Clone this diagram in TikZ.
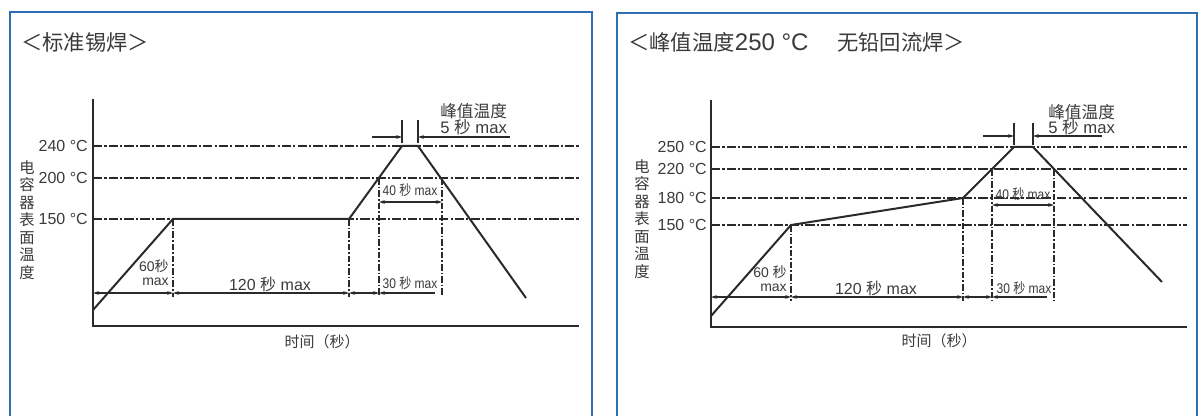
\documentclass[tikz,border=0pt]{standalone}
\usepackage{fontspec}
\setmainfont{Liberation Sans}
\newfontfamily\cjk{Noto Sans CJK SC}
\usetikzlibrary{arrows.meta}
\newcommand\zhtxt[1]{{\cjk #1}}
\definecolor{boxblue}{HTML}{2F6DB5}
\definecolor{ink}{HTML}{2A2A2A}
\definecolor{txt}{HTML}{3A3A3A}
\begin{document}
\begin{tikzpicture}[x=0.75pt,y=-0.75pt,
  frame/.style={draw=boxblue,line width=1.6pt},
  axisline/.style={draw=ink,line width=1.1pt},
  templine/.style={draw=ink,line width=1pt,dash pattern=on 7pt off 1.6pt on 1.6pt off 1.6pt},
  extline/.style={draw=ink,line width=0.9pt,dash pattern=on 5pt off 1.5pt on 1.2pt off 1.5pt},
  profile/.style={draw=ink,line width=1.5pt,line join=miter},
  dimline/.style={draw=ink,line width=0.8pt},
  dimboth/.style={dimline,{Stealth[length=4.5pt,width=2.8pt]}-{Stealth[length=4.5pt,width=2.8pt]}},
  dimstart/.style={dimline,{Stealth[length=4.5pt,width=2.8pt]}-},
  dimend/.style={dimline,-{Stealth[length=4.5pt,width=2.8pt]}},
  ticks/.style={draw=ink,line width=0.8pt},
  lbl/.style={text=txt,inner sep=0pt,font=\fontsize{12}{14}\selectfont},
  smalllbl/.style={text=txt,inner sep=0pt,font=\fontsize{10.5}{12}\selectfont},
  condlbl/.style={text=txt,inner sep=0pt,font=\fontsize{10.5}{12}\selectfont},
  peaklbl/.style={text=txt,inner sep=0pt,font=\fontsize{12.5}{11.5}\selectfont,align=left},
  vlbl/.style={text=txt,inner sep=0pt,font=\cjk\fontsize{11.5}{13.1}\selectfont,align=center},
  titlelbl/.style={text=txt,inner sep=0pt,font=\cjk\fontsize{16}{18}\selectfont},
  timelbl/.style={text=txt,inner sep=0pt,font=\cjk\fontsize{11.25}{13}\selectfont}
]
\useasboundingbox (0,0) rectangle (1200,416);

% ================= frames =================
\draw[frame] (10,420) -- (10,12) -- (592,12) -- (592,420);
\draw[frame] (617,420) -- (617,13) -- (1197,13) -- (1197,420);

\node[titlelbl,anchor=west] (t1) at (21,42) {＜标准锡焊＞};
\node[titlelbl,anchor=west] (t2) at (628,42) {＜峰值温度{\fontspec{Liberation Sans}\fontsize{18}{18}\selectfont 250 °C}\hspace{21.5pt}无铅回流焊＞};

% ================= left chart =================
\coordinate (LA) at (93,99);
\coordinate (LO) at (93,326);
\coordinate (LX) at (579,326);
\draw[axisline] (LA) -- (LO) -- (LX);

\coordinate (L240a) at (93,146); \coordinate (L240b) at (579,146);
\coordinate (L200a) at (93,178); \coordinate (L200b) at (579,178);
\coordinate (L150a) at (93,219); \coordinate (L150b) at (579,219);
\draw[templine] (L240a) -- (L240b);
\draw[templine] (L200a) -- (L200b);
\draw[templine] (L150a) -- (L150b);

\node[lbl,anchor=east] (l240) at (88,146) {240 °C};
\node[lbl,anchor=east] (l200) at (88,178) {200 °C};
\node[lbl,anchor=east] (l150) at (88,219) {150 °C};
\node[vlbl] (lv) at (27,220) {电\\容\\器\\表\\面\\温\\度};

\coordinate (P0) at (93,310);
\coordinate (P1) at (173,219);
\coordinate (P2) at (349,219);
\coordinate (P3) at (402,146);
\coordinate (P4) at (418,146);
\coordinate (P5) at (526,298);
\draw[profile] (P0) -- (P1) -- (P2) -- (P3) -- (P4) -- (P5);

\coordinate (E1a) at (173,219); \coordinate (E1b) at (173,297);
\coordinate (E2a) at (349,219); \coordinate (E2b) at (349,297);
\coordinate (E3a) at (379,178); \coordinate (E3b) at (379,297);
\coordinate (E4a) at (442,178); \coordinate (E4b) at (442,297);
\draw[extline] (E1a) -- (E1b);
\draw[extline] (E2a) -- (E2b);
\draw[extline] (E3a) -- (E3b);
\draw[extline] (E4a) -- (E4b);

\coordinate (D0) at (93,293);
\coordinate (D1) at (173,293);
\coordinate (D2) at (349,293);
\coordinate (D3) at (379,293);
\coordinate (D4) at (435,293);
\draw[dimboth] (D0) -- (D1);
\draw[dimboth] (D1) -- (D2);
\draw[dimboth] (D2) -- (D3);
\draw[dimstart] (D3) -- (D4);

\coordinate (F1) at (379,202); \coordinate (F2) at (442,202);
\draw[dimboth] (F1) -- (F2);

\coordinate (K1a) at (402,120); \coordinate (K1b) at (402,143);
\coordinate (K2a) at (418,120); \coordinate (K2b) at (418,143);
\draw[ticks] (K1a) -- (K1b);
\draw[ticks] (K2a) -- (K2b);
\coordinate (H1) at (372,137); \coordinate (H1e) at (402,137);
\coordinate (H2) at (510,137); \coordinate (H2e) at (418,137);
\draw[dimend] (H1) -- (H1e);
\draw[dimend] (H2) -- (H2e);

\node[peaklbl,anchor=west] (lp1) at (440,111) {\zhtxt{峰值温度}};
\node[peaklbl,anchor=west] (lp2) at (440,127) {5 \zhtxt{秒} max};
\node[condlbl] (l40) at (410,190) {\scalebox{0.86}[1]{40 \zhtxt{秒} max}};
\node[condlbl] (l30) at (410,283) {\scalebox{0.86}[1]{30 \zhtxt{秒} max}};
\node[smalllbl,anchor=east] (l60a) at (169,266) {60\zhtxt{秒}};
\node[smalllbl,anchor=east] (l60b) at (169,282) {max};
\node[lbl] (l120) at (270,284) {120 \zhtxt{秒} max};
\node[timelbl] (ltime) at (322,342) {时间（秒）};

% ================= right chart =================
\coordinate (RA) at (711,100);
\coordinate (RO) at (711,327);
\coordinate (RX) at (1187,327);
\draw[axisline] (RA) -- (RO) -- (RX);

\coordinate (R250a) at (711,147); \coordinate (R250b) at (1187,147);
\coordinate (R220a) at (711,169); \coordinate (R220b) at (1187,169);
\coordinate (R180a) at (711,198); \coordinate (R180b) at (1187,198);
\coordinate (R150a) at (711,225); \coordinate (R150b) at (1187,225);
\draw[templine] (R250a) -- (R250b);
\draw[templine] (R220a) -- (R220b);
\draw[templine] (R180a) -- (R180b);
\draw[templine] (R150a) -- (R150b);

\node[lbl,anchor=east] (r250) at (707,147) {250 °C};
\node[lbl,anchor=east] (r220) at (707,169) {220 °C};
\node[lbl,anchor=east] (r180) at (707,198) {180 °C};
\node[lbl,anchor=east] (r150) at (707,225) {150 °C};
\node[vlbl] (rv) at (642,219) {电\\容\\器\\表\\面\\温\\度};

\coordinate (Q0) at (711,316);
\coordinate (Q1) at (791,225);
\coordinate (Q2) at (963,198);
\coordinate (Q3) at (1014,147);
\coordinate (Q4) at (1033,147);
\coordinate (Q5) at (1162,282);
\draw[profile] (Q0) -- (Q1) -- (Q2) -- (Q3) -- (Q4) -- (Q5);

\coordinate (G1a) at (791,225); \coordinate (G1b) at (791,301);
\coordinate (G2a) at (963,198); \coordinate (G2b) at (963,301);
\coordinate (G3a) at (992,169); \coordinate (G3b) at (992,301);
\coordinate (G4a) at (1054,169); \coordinate (G4b) at (1054,301);
\draw[extline] (G1a) -- (G1b);
\draw[extline] (G2a) -- (G2b);
\draw[extline] (G3a) -- (G3b);
\draw[extline] (G4a) -- (G4b);

\coordinate (M0) at (711,297);
\coordinate (M1) at (791,297);
\coordinate (M2) at (963,297);
\coordinate (M3) at (992,297);
\coordinate (M4) at (1047,297);
\draw[dimboth] (M0) -- (M1);
\draw[dimboth] (M1) -- (M2);
\draw[dimboth] (M2) -- (M3);
\draw[dimstart] (M3) -- (M4);

\coordinate (N1) at (992,205); \coordinate (N2) at (1054,205);
\draw[dimboth] (N1) -- (N2);

\coordinate (S1a) at (1014,123); \coordinate (S1b) at (1014,145);
\coordinate (S2a) at (1033,123); \coordinate (S2b) at (1033,145);
\draw[ticks] (S1a) -- (S1b);
\draw[ticks] (S2a) -- (S2b);
\coordinate (W1) at (983,136); \coordinate (W1e) at (1014,136);
\coordinate (W2) at (1102,136); \coordinate (W2e) at (1033,136);
\draw[dimend] (W1) -- (W1e);
\draw[dimend] (W2) -- (W2e);

\node[peaklbl,anchor=west] (rp1) at (1048,112) {\zhtxt{峰值温度}};
\node[peaklbl,anchor=west] (rp2) at (1048,127) {5 \zhtxt{秒} max};
\node[condlbl] (r40) at (1023,194) {\scalebox{0.86}[1]{40 \zhtxt{秒} max}};
\node[condlbl] (r30) at (1024,288) {\scalebox{0.86}[1]{30 \zhtxt{秒} max}};
\node[smalllbl,anchor=east] (r60a) at (787,272) {60 \zhtxt{秒}};
\node[smalllbl,anchor=east] (r60b) at (787,288) {max};
\node[lbl] (r120) at (876,288) {120 \zhtxt{秒} max};
\node[timelbl] (rtime) at (939,341) {时间（秒）};
\end{tikzpicture}
\end{document}
